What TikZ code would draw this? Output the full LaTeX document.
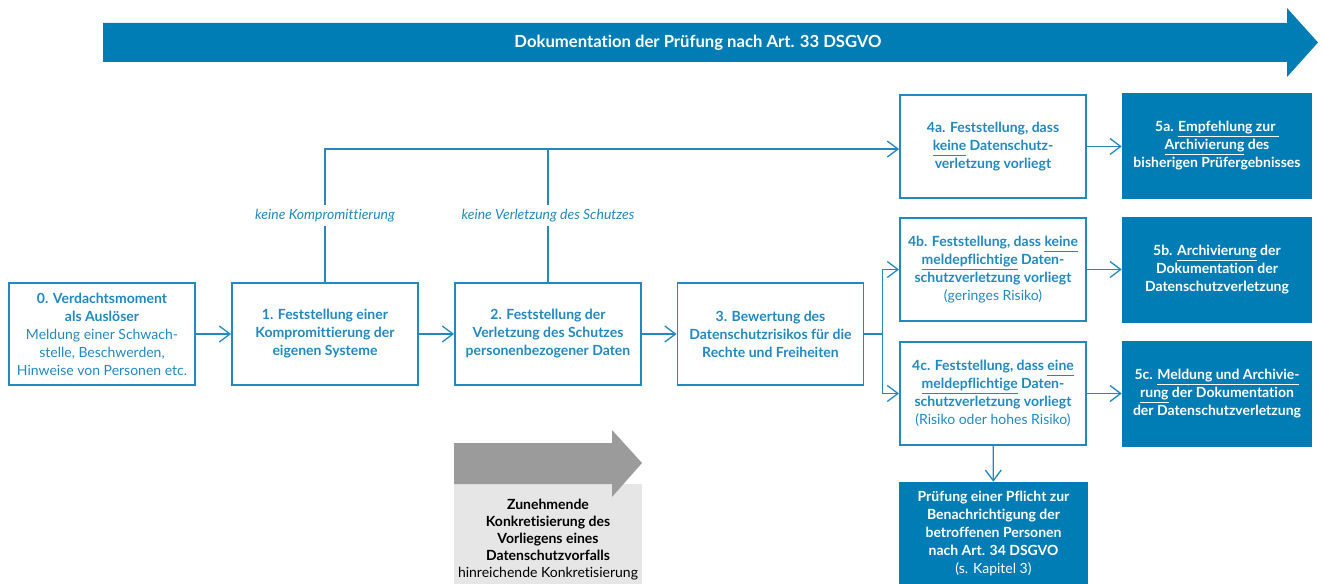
\documentclass[tikz,border=0pt]{standalone}
\usepackage{fontspec}
\setmainfont[Ligatures=NoCommon]{Lato}
\usetikzlibrary{arrows.meta}
\definecolor{dsblue}{HTML}{007DB4}
\definecolor{dsline}{HTML}{2189C0}
\definecolor{dsgray}{HTML}{9B9B9B}
\definecolor{dslight}{HTML}{E6E6E6}
\newcommand{\boxfont}{\fontsize{10.5}{13.5}\selectfont}
\newcommand{\unterstr}[1]{\underline{\vphantom{gp}#1}}
\begin{document}
\begin{tikzpicture}[x=0.75pt, y=-0.75pt,
    openbox/.style={draw=dsline, line width=1.4pt, fill=white, text=dsline, align=center,
      minimum width=139.5pt, minimum height=77pt, inner sep=2pt, font=\boxfont},
    fullbox/.style={fill=dsblue, text=white, align=center,
      minimum width=142.5pt, minimum height=79.5pt, inner sep=2pt, font=\boxfont},
    conn/.style={draw=dsline, line width=1pt},
    flow/.style={conn, -{Straight Barb[length=8pt, width=12pt, line width=1pt]}},
    branchlabel/.style={fill=white, text=dsline, font=\boxfont\itshape, inner sep=3pt}]
  \useasboundingbox (0,0) rectangle (1323,584);

  % big arrow on top
  \fill[dsblue] (103,23) -- (1287,23) -- (1287,8) -- (1318,42.5) -- (1287,77) -- (1287,62) -- (103,62) -- cycle;
  \node[text=white, font=\fontsize{12.5}{14}\selectfont\bfseries] (doku) at (698,42.5) {Dokumentation der Prüfung nach Art. 33 DSGVO};

  % main row
  \node[openbox] (v0) at (102,334) {\textbf{0. Verdachtsmoment}\\\textbf{als Auslöser}\\Meldung einer Schwach-\\stelle, Beschwerden,\\Hinweise von Personen etc.};
  \node[openbox] (f1) at (325,334) {\bfseries 1. Feststellung einer\\\bfseries Kompromittierung der\\\bfseries eigenen Systeme};
  \node[openbox] (f2) at (548,334) {\bfseries 2. Feststellung der\\\bfseries Verletzung des Schutzes\\\bfseries personenbezogener Daten};
  \node[openbox] (b3) at (770.5,334) {\bfseries 3. Bewertung des\\\bfseries Datenschutzrisikos für die\\\bfseries Rechte und Freiheiten};

  % results
  \node[openbox] (k4a) at (993,146.5) {\bfseries 4a. Feststellung, dass\\\bfseries \unterstr{keine} Datenschutz-\\\bfseries verletzung vorliegt};
  \node[openbox] (k4b) at (993,269.5) {\bfseries 4b. Feststellung, dass \unterstr{keine}\\\bfseries \unterstr{meldepflichtige} Daten-\\\bfseries schutzverletzung vorliegt\\(geringes Risiko)};
  \node[openbox] (k4c) at (993,393.5) {\bfseries 4c. Feststellung, dass \unterstr{eine}\\\bfseries \unterstr{meldepflichtige} Daten-\\\bfseries schutzverletzung vorliegt\\(Risiko oder hohes Risiko)};

  \node[fullbox] (e5a) at (1217,146) {\bfseries 5a. \unterstr{Empfehlung zur\ }\\\bfseries \unterstr{Archivierung} des\\\bfseries bisherigen Prüfergebnisses};
  \node[fullbox] (e5b) at (1217,270) {\bfseries 5b. \unterstr{Archivierung} der\\\bfseries Dokumentation der\\\bfseries Datenschutzverletzung};
  \node[fullbox] (e5c) at (1217,393.5) {\bfseries 5c. \unterstr{Meldung und Archivie-}\\\bfseries \unterstr{rung} der Dokumentation\\\bfseries der Datenschutzverletzung};
  \node[fullbox, minimum width=141.75pt, minimum height=76.5pt] (p34) at (993.5,533) {\bfseries Prüfung einer Pflicht zur\\\bfseries Benachrichtigung der\\\bfseries betroffenen Personen\\\bfseries nach Art. 34 DSGVO\\(s. Kapitel 3)};

  % grey arrow
  \node[fill=dslight, minimum width=141pt, minimum height=75pt, inner sep=2pt] (konkret) at (548,534) {};
  \fill[dsgray] (454,443) -- (612,443) -- (612,430) -- (642,463) -- (612,497) -- (612,484) -- (454,484) -- cycle;
  \node[align=center, font=\fontsize{10.5}{12.75}\selectfont, anchor=north] (konkrettext) at (548,494) {\bfseries Zunehmende\\\bfseries Konkretisierung des\\\bfseries Vorliegens eines\\\bfseries Datenschutzvorfalls\\hinreichende Konkretisierung};

  % connectors
  \coordinate (ziel4a) at ([yshift=-1.9pt]k4a.west);
  \draw[flow] (v0) -- (f1);
  \draw[flow] (f1) -- (f2);
  \draw[flow] (f2) -- (b3);
  \draw[flow] (f1.north) -- node[branchlabel] {keine Kompromittierung} (f1.north |- ziel4a) -- (ziel4a);
  \draw[conn] (f2.north) -- node[branchlabel] {keine Verletzung des Schutzes} (f2.north |- ziel4a);
  \draw[conn] (b3.east) -- ++(18,0) coordinate (gabel);
  \draw[flow] (gabel) |- (k4b.west);
  \draw[flow] (gabel) |- (k4c.west);
  \draw[flow] (k4a.east) -- (k4a.east -| e5a.west);
  \draw[flow] (k4b.east) -- (k4b.east -| e5b.west);
  \draw[flow] (k4c.east) -- (k4c.east -| e5c.west);
  \draw[flow] (k4c) -- (p34);
\end{tikzpicture}
\end{document}
